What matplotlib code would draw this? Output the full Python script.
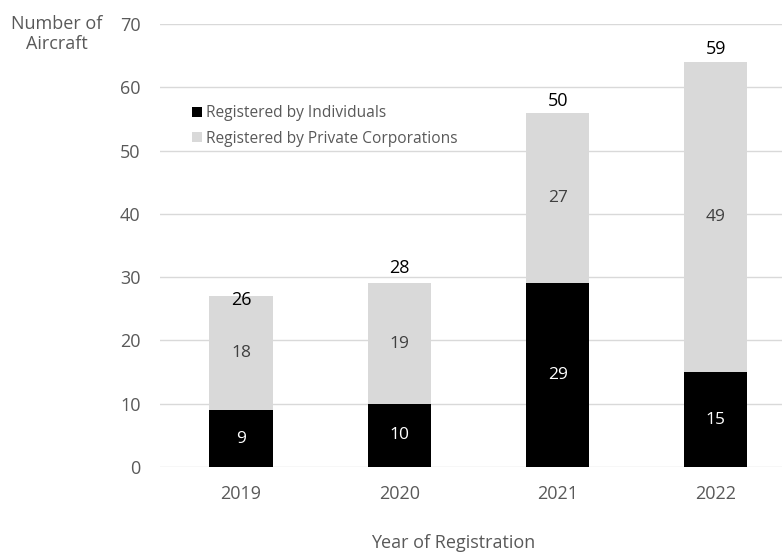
import numpy as np
import matplotlib.pyplot as plt

years = ["2019", "2020", "2021", "2022"]
individuals = [9, 10, 29, 15]
corporations = [18, 19, 27, 49]
totals = [26, 28, 50, 59]
total_offsets = [-3, 11, 8, 9]  # points above bar top

plt.rcParams.update({
    "font.family": ["Open Sans", "DejaVu Sans"],
    "font.size": 13,
})

GREY_TXT = "#595959"
LIGHT = "#D9D9D9"

fig = plt.figure(figsize=(7.82, 5.56), dpi=100)
ax = fig.add_axes([160 / 782, 1 - 467 / 556, 1 - 160 / 782, (467 - 24) / 556])

x = np.arange(len(years))
w = 0.40
b1 = ax.bar(x, individuals, w, color="black", label="Registered by Individuals", zorder=3)
b2 = ax.bar(x, corporations, w, bottom=individuals, color=LIGHT,
            label="Registered by Private Corporations", zorder=3)

ax.bar_label(b1, labels=[str(v) for v in individuals], label_type="center",
             color="white", fontsize=12.5)
ax.bar_label(b2, labels=[str(v) for v in corporations], label_type="center",
             color="#404040", fontsize=12.5)

for i, (t, off) in enumerate(zip(totals, total_offsets)):
    top = individuals[i] + corporations[i]
    ax.annotate(str(t), (x[i], top), xytext=(0, off), textcoords="offset points",
                ha="center", va="center", fontsize=13, color="black")

ax.set_xlim(-0.512, 3.418)
ax.set_ylim(0, 70)
ax.set_yticks(np.arange(0, 71, 10))
ax.set_xticks(x)
ax.set_xticklabels(years)
ax.yaxis.grid(True, color=LIGHT, linewidth=1, zorder=0)
ax.set_axisbelow(True)
for s in ax.spines.values():
    s.set_visible(False)
ax.tick_params(axis="both", length=0, colors=GREY_TXT, labelsize=13)
ax.tick_params(axis="y", pad=14)
ax.tick_params(axis="x", pad=13)

leg = ax.legend(loc="upper left", bbox_to_anchor=(186 / 782, 1 - 99 / 556),
                bbox_transform=fig.transFigure, frameon=False, fontsize=11.2,
                handlelength=0.6, handleheight=0.6, handletextpad=0.3,
                labelspacing=0.6, borderaxespad=0)
for t in leg.get_texts():
    t.set_color(GREY_TXT)

fig.text(57 / 782, 1 - 34 / 556, "Number of\nAircraft", ha="center", va="center",
         color=GREY_TXT, fontsize=13, linespacing=1.2)
fig.text(453 / 782, 1 - 543 / 556, "Year of Registration", ha="center", va="center",
         color=GREY_TXT, fontsize=13)

fig.savefig("out.png", dpi=100)
